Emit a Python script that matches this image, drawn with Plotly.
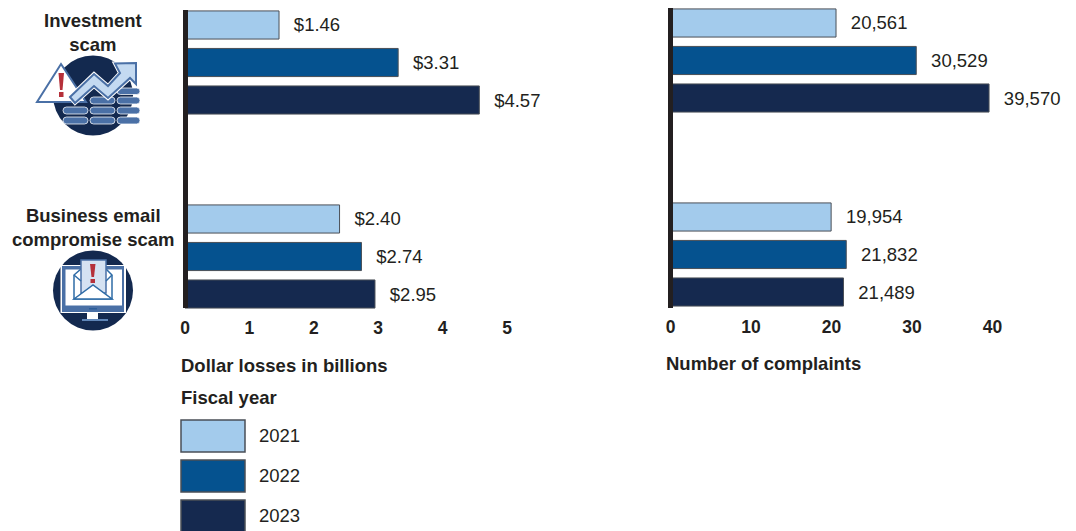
import plotly.graph_objects as go

# Fraud figures by scheme and fiscal year
categories = ["Investment scam", "Business email compromise scam"]
years = ["2021", "2022", "2023"]
losses_2021 = [1.46, 2.40]
losses_2022 = [3.31, 2.74]
losses_2023 = [4.57, 2.95]
complaints_2021 = [20561, 19954]
complaints_2022 = [30529, 21832]
complaints_2023 = [39570, 21489]
loss_ticks = [0, 1, 2, 3, 4, 5]
complaint_ticks = [0, 10, 20, 30, 40]

W, H = 1076, 531
FONT = "Liberation Sans, Arial, sans-serif"
INK = "#231f20"
FILLS = ["#a3cbec", "#05528f", "#15294f"]
EDGE = "#4a4f57"
NAVY = "#13294f"
STEEL = "#4a70a6"
SKY = "#c4daf1"
RED = "#b5303a"
PAD = "\u00a0\u00a0\u200a"
LOSS_ZERO = 185
COUNT_ZERO = 670.5

fig = go.Figure()

loss_rows = [losses_2021, losses_2022, losses_2023]
count_rows = [complaints_2021, complaints_2022, complaints_2023]
for i, year in enumerate(years):
    fig.add_bar(
        y=categories, x=loss_rows[i], orientation="h", name=year,
        marker=dict(color=FILLS[i], line=dict(color=EDGE, width=1)),
        text=[f"{PAD}${v:.2f}" for v in loss_rows[i]],
        textposition="outside", cliponaxis=False, constraintext="none",
        textfont=dict(family=FONT, size=18.5, color=INK),
        hoverinfo="skip", showlegend=False, xaxis="x", yaxis="y",
    )
    fig.add_bar(
        y=categories, x=[v / 1000 for v in count_rows[i]], orientation="h", name=year,
        marker=dict(color=FILLS[i], line=dict(color=EDGE, width=1)),
        text=[f"{PAD}{v:,}" for v in count_rows[i]],
        textposition="outside", cliponaxis=False, constraintext="none",
        textfont=dict(family=FONT, size=18.5, color=INK),
        hoverinfo="skip", showlegend=False, xaxis="x2", yaxis="y2",
    )
# Pixel-addressed overlay used for icons, legend keys and free text
fig.add_scatter(x=[], y=[], xaxis="x3", yaxis="y3", showlegend=False, hoverinfo="skip")


def xdom(a, b):
    return [a / W, b / W]


def ydom(top, bottom):
    return [(H - bottom) / H, (H - top) / H]


def band_axis(top, bottom, center0, pitch=194.0):
    return dict(
        domain=ydom(top, bottom), type="category", categoryorder="array",
        categoryarray=categories, showticklabels=False, showgrid=False,
        zeroline=False, ticks="", showline=False, fixedrange=True,
        range=[(bottom - center0) / pitch, (top - center0) / pitch],
    )


def value_axis(a, b, lo, hi, ticks, anchor):
    return dict(
        domain=xdom(a, b), range=[lo, hi], tickvals=ticks, anchor=anchor,
        showgrid=False, zeroline=False, showline=False, ticks="",
        tickfont=dict(family=FONT, size=17.5, color=INK, weight="bold"),
        ticklabelstandoff=6, fixedrange=True,
    )


shapes = []


def rect(x0, y0, x1, y1, fill, line=None, width=1):
    shapes.append(dict(type="rect", xref="x3", yref="y3", x0=x0, y0=y0, x1=x1, y1=y1,
                       fillcolor=fill, line=dict(color=line or fill, width=width if line else 0)))


def path(d, fill="rgba(0,0,0,0)", line=None, width=1):
    shapes.append(dict(type="path", xref="x3", yref="y3", path=d, fillcolor=fill,
                       line=dict(color=line or "rgba(0,0,0,0)", width=width if line else 0)))


def disc(cx, cy, r, fill):
    shapes.append(dict(type="circle", xref="x3", yref="y3", x0=cx - r, y0=cy - r,
                       x1=cx + r, y1=cy + r, fillcolor=fill, line=dict(width=0)))


def pill(x0, y0, x1, y1):
    r = (y1 - y0) / 2
    path(f"M{x0+r},{y0} L{x1-r},{y0} Q{x1},{y0} {x1},{y0+r} Q{x1},{y1} {x1-r},{y1} "
         f"L{x0+r},{y1} Q{x0},{y1} {x0},{y0+r} Q{x0},{y0} {x0+r},{y0} Z",
         fill=STEEL, line="#ffffff", width=0.75)


# Heavy zero lines sit over the bar ends
for zero, top, bottom in [(LOSS_ZERO + 0.5, 10, 308), (COUNT_ZERO, 8, 308)]:
    shapes.append(dict(type="line", xref="x3", yref="y3", x0=zero, x1=zero, y0=top, y1=bottom,
                       line=dict(color=INK, width=5), layer="above"))

# Investment icon: coin stacks, warning triangle, rising arrow
disc(93, 95.5, 40, NAVY)
for x0, x1, rows in [(63, 88, [(107, 114), (117, 124)]),
                     (90, 115, [(97, 104), (107, 114), (117, 124)]),
                     (117, 140, [(88, 94.5), (97, 104), (107, 114), (117, 124)])]:
    for y0, y1 in rows:
        pill(x0, y0, x1, y1)
path("M61,64 L86,102 L37,102 Z", fill="#ffffff", line=STEEL, width=2)
path("M58.5,73 L64,73 L62.5,90 L60,90 Z", fill=RED)
rect(59, 92, 63.5, 97, RED)
arrow_outline = ("M70,97 L94,74 L108,86 L120,73 L115,63.5 L136,63 L136,84 L130,78 "
                 "L108,98 L94,86 L75,103 Z")
path(arrow_outline, line="#ffffff", width=4)
path(arrow_outline, fill=SKY, line=STEEL, width=2)

# Email icon: monitor with an envelope and alert sheet
disc(93, 290.5, 40, NAVY)
rect(87, 311, 98, 319, "#ffffff")
rect(82, 319, 108, 321, "#5f86b8")
rect(60.5, 265, 126, 313, "#ffffff")
rect(62, 266, 124, 312, STEEL)
rect(65.5, 269.5, 122, 305.5, "#ffffff")
rect(89, 308, 97, 309.5, "#2c5d99")
path("M74,275 L81,269 L106,269 L112,275 L112,299 L74,299 Z", fill="#ffffff", line="#2f6ca6", width=1.5)
path("M81,260 L106,260 L106,293 L81,293 Z", fill="#d5e2f2", line=STEEL, width=1.5)
path("M74,275 L81,281", line="#2f6ca6", width=1.5)
path("M112,275 L106,281", line="#2f6ca6", width=1.5)
path("M74,299 L93,285 L112,299 Z", fill="#ffffff", line="#2f6ca6", width=1.5)
path("M90,264 L95.5,264 L94,277 L91.5,277 Z", fill=RED)
rect(90.5, 279, 95, 283, RED)

# Legend keys
for i, (top, bottom) in enumerate([(420, 452), (460, 492), (500, 533)]):
    rect(181, top, 245, bottom, FILLS[i], line=EDGE, width=1.5)

annotations = []


def note(text, x, y, anchor="left", weight="normal", size=18.5):
    annotations.append(dict(
        text=text, xref="x3", yref="y3", x=x, y=y, xanchor=anchor, yanchor="middle",
        showarrow=False, align="center",
        font=dict(family=FONT, size=size, color=INK, weight=weight),
    ))


note("Investment<br>scam", 93, 32.5, "center", "bold", 18.5)
note("Business email<br>compromise scam", 93, 227.5, "center", "bold", 18.5)
note("Dollar losses in billions", 179, 365, weight="bold", size=18.5)
note("Number of complaints", 664, 363, weight="bold", size=18.5)
note("Fiscal year", 179, 397, weight="bold", size=18.5)
for year, y in zip(years, [435, 475, 515]):
    note(year, 257, y)

fig.update_layout(
    width=W, height=H, autosize=False,
    margin=dict(l=0, r=0, t=0, b=0, pad=0, autoexpand=False),
    paper_bgcolor="#ffffff", plot_bgcolor="rgba(0,0,0,0)",
    barmode="group", bargap=0.42, bargroupgap=0.25,
    showlegend=False,
    xaxis=value_axis(LOSS_ZERO, LOSS_ZERO + 322, 0, 5, loss_ticks, "y"),
    yaxis=band_axis(9, 309, 62.5),
    xaxis2=value_axis(COUNT_ZERO, COUNT_ZERO + 322, 0, 40, complaint_ticks, "y2"),
    yaxis2=band_axis(8, 308, 60.5),
    xaxis3=dict(domain=[0, 1], range=[0, W], visible=False, anchor="y3", fixedrange=True),
    yaxis3=dict(domain=[0, 1], range=[H, 0], visible=False, anchor="x3", fixedrange=True),
    shapes=shapes,
    annotations=annotations,
)

fig.write_html("out.html", config=dict(displayModeBar=False))
